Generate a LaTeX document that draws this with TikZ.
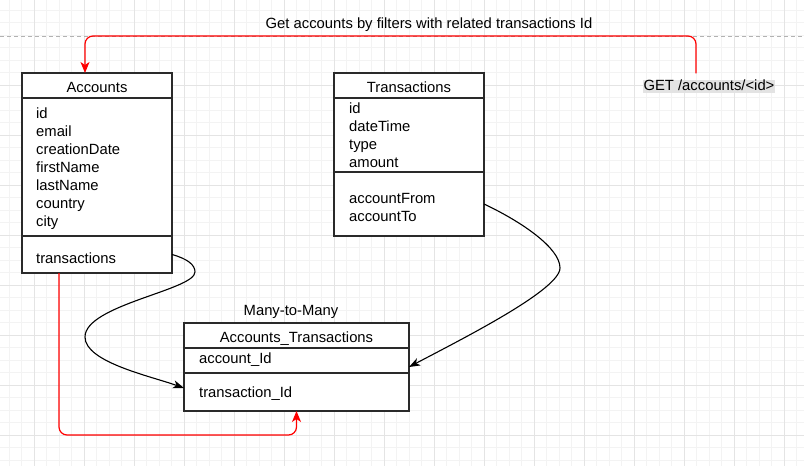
\documentclass[tikz,border=0pt]{standalone}
\usepackage{fontspec}
\setmainfont{Liberation Sans}
\usetikzlibrary{arrows.meta,calc}
\definecolor{minorgrid}{HTML}{F3F3F3}
\definecolor{majorgrid}{HTML}{E4E4E4}
\definecolor{boxline}{HTML}{2A2A2A}
\definecolor{lblbg}{HTML}{E3E3E3}
\definecolor{edgered}{HTML}{FF0000}
\begin{document}
\begin{tikzpicture}[x=1pt,y=-1pt,
  every node/.style={font=\fontsize{14.8}{18}\selectfont, text=black},
  hdr/.style={draw=boxline, line width=1.3pt, fill=white, minimum height=25pt, inner sep=0pt, outer sep=0pt, anchor=north, text height=14pt, text depth=0pt},
  sect/.style={draw=boxline, line width=1.3pt, fill=white, inner sep=0pt, outer sep=0pt, anchor=north},
  fld/.style={inner sep=0pt, align=left, anchor=west},
  conn/.style={draw=black, line width=1.1pt, -{Stealth[length=11pt,width=8pt,inset=3pt]}},
  redc/.style={draw=edgered, line width=1.2pt, rounded corners=8pt, -{Stealth[length=11pt,width=9pt,inset=3pt]}},
  minorln/.style={draw=minorgrid, line width=0.8pt},
  majorln/.style={draw=majorgrid, line width=0.8pt},
  getlbl/.style={fill=lblbg, inner xsep=0.5pt, inner ysep=0pt, text height=10.5pt, text depth=3pt}
]
\useasboundingbox (0,0) rectangle (804,466);
\fill[white] (0,0) rectangle (804,466);
% grid
\foreach \x in {9,21.5,...,804} \draw[minorln] (\x,0) -- (\x,466);
\foreach \y in {10,22.5,...,466} \draw[minorln] (0,\y) -- (804,\y);
\foreach \x in {34,84,...,784} \draw[majorln] (\x,0) -- (\x,466);
\foreach \y in {85,135,...,435} \draw[majorln] (0,\y) -- (804,\y);
% page break line
\draw[draw=black!30, line width=1pt, dash pattern=on 4pt off 3pt] (0,36) -- (804,36);

% Accounts
\node[hdr, minimum width=150pt] (acch) at (97,73) {Accounts};
\node[sect, minimum width=150pt, minimum height=138pt] (accf) at (acch.south) {};
\node[sect, minimum width=150pt, minimum height=37pt] (accm) at (accf.south) {};
\node[fld] (accft) at ([xshift=14pt,yshift=-2pt]accf.west) {id\\email\\creationDate\\firstName\\lastName\\country\\city};
\node[fld] (accmt) at ([xshift=14pt,yshift=-4pt]accm.west) {transactions};

% Transactions
\node[hdr, minimum width=150pt] (trh) at (409,73) {Transactions};
\node[sect, minimum width=150pt, minimum height=74pt] (trf) at (trh.south) {};
\node[sect, minimum width=150pt, minimum height=64pt] (trm) at (trf.south) {};
\node[fld] (trft) at ([xshift=15pt,yshift=0pt]trf.west) {id\\dateTime\\type\\amount};
\node[fld] (trmt) at ([xshift=15pt,yshift=-3.5pt]trm.west) {accountFrom\\accountTo};

% Accounts_Transactions
\node[hdr, minimum width=225pt] (ath) at (296.5,323) {Accounts\_Transactions};
\node[sect, minimum width=225pt, minimum height=25pt] (atf) at (ath.south) {};
\node[sect, minimum width=225pt, minimum height=38pt] (atm) at (atf.south) {};
\node[fld] (atft) at ([xshift=15pt,yshift=1pt]atf.west) {account\_Id};
\node[fld] (atmt) at ([xshift=15pt,yshift=-1.5pt]atm.west) {transaction\_Id};

% labels
\node (mm) at (291,311.5) {Many-to-Many};
\node (ttl) at (429,25) {Get accounts by filters with related transactions Id};
\node[getlbl] (get) at (709,86.7) {GET /accounts/<id>};

% red connectors
\coordinate (tl) at (85,36);
\draw[redc] ([xshift=-13pt,yshift=6.5pt]get.north) |- (tl) -- ([xshift=-12pt]acch.north);
\draw[redc] ([xshift=-38pt]accm.south) |- ($(atm.south)+(0,24)$) -- (atm.south);

% black connectors
\draw[conn] (accm.east) .. controls (188,259) and (195,265) .. (195,272)
  .. controls (195,290) and (85,305) .. (85,337)
  .. controls (85,362) and (150,376) .. ([yshift=4pt]atm.west);
\draw[conn] (trm.east) .. controls (522,222) and (560,248) .. (560,268)
  .. controls (560,290) and (460,340) .. ([yshift=6pt]atf.south east);
\end{tikzpicture}
\end{document}
